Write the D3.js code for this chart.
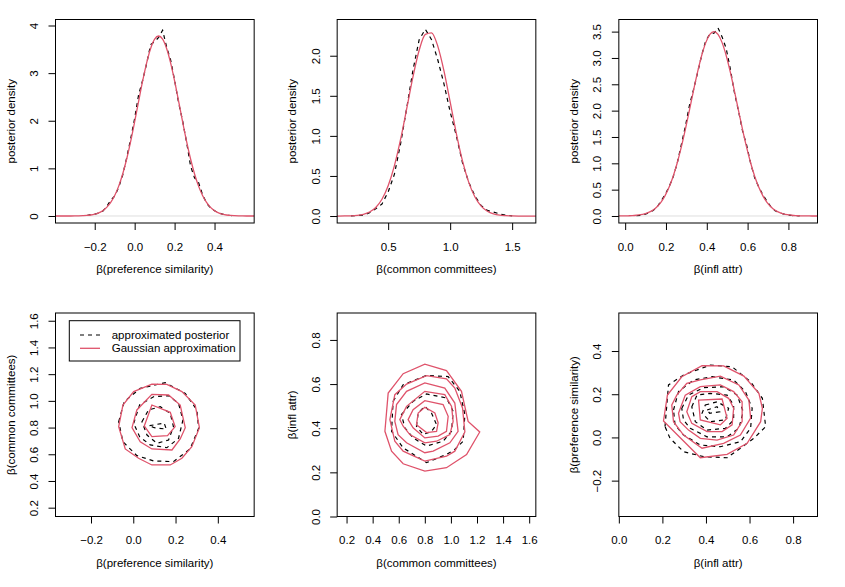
<!DOCTYPE html>
<html>
<head>
<meta charset="utf-8">
<script src="https://cdn.jsdelivr.net/npm/d3@7"></script>
<style>
  body { margin: 0; background: #fff; }
  text { font-family: "Liberation Sans", Arial, Helvetica, sans-serif; font-size: 11.5px; fill: #000; }
</style>
</head>
<body>
<svg id="chart" width="845" height="587"></svg>
<script>
//////////////////////// data ////////////////////////

// tick labels
const prefTicks = [-0.2, 0, 0.2, 0.4];
const commTicks = [0.5, 1.0, 1.5];
const inflTicks = [0, 0.2, 0.4, 0.6, 0.8];
const dens1Ticks = [0, 1, 2, 3, 4];
const dens2Ticks = [0, 0.5, 1.0, 1.5, 2.0];
const dens3Ticks = [0, 0.5, 1.0, 1.5, 2.0, 2.5, 3.0, 3.5];
const commTicks2 = [0.2, 0.4, 0.6, 0.8, 1.0, 1.2, 1.4, 1.6];
const inflTicks2 = [0, 0.2, 0.4, 0.6, 0.8];
const prefTicks2 = [-0.2, 0, 0.2, 0.4];

// beta(preference similarity): grid, Gaussian approximation, approximated posterior
const prefX = [-0.40,-0.38,-0.36,-0.34,-0.32,-0.30,-0.28,-0.26,-0.24,-0.22,-0.20,-0.18,-0.16,-0.14,-0.12,-0.10,-0.08,-0.06,-0.04,-0.02,
  0.00,0.02,0.04,0.06,0.08,0.10,0.12,0.14,0.16,0.18,0.20,0.22,0.24,0.26,0.28,0.30,0.32,0.34,0.36,0.38,0.40,0.42,0.44,0.46,0.48,0.50,
  0.52,0.54,0.56,0.58,0.60];
const prefGauss = [0,0,0,0,0,0.001,0.003,0.006,0.011,0.021,0.038,0.066,0.112,0.181,0.284,0.430,0.627,0.882,1.197,1.567,
  1.980,2.412,2.835,3.216,3.518,3.713,3.780,3.713,3.518,3.216,2.835,2.412,1.980,1.567,1.197,0.882,0.627,0.430,0.284,0.181,
  0.112,0.066,0.038,0.021,0.011,0.006,0.003,0.001,0,0,0];
const prefPost = [null,null,null,null,null,null,null,null,0.01,0.03,0.04,0.06,0.10,0.20,0.33,0.42,0.60,0.86,1.22,1.62,
  2.05,2.55,2.85,3.20,3.60,3.66,3.75,3.90,3.55,3.28,2.85,2.38,2.00,1.55,1.05,0.80,0.70,0.45,0.27,0.17,
  0.11,0.07,0.04,0.02,0.01,0.005,null,null,null,null,null];

// beta(common committees)
const commX = [0.05,0.10,0.15,0.20,0.25,0.30,0.35,0.40,0.45,0.50,0.55,0.60,0.65,0.70,0.75,0.80,0.85,0.90,0.95,1.00,
  1.05,1.10,1.15,1.20,1.25,1.30,1.35,1.40,1.45,1.50,1.55,1.60,1.65,1.70,1.75];
const commGauss = [0,0,0.001,0.003,0.009,0.022,0.050,0.107,0.209,0.377,0.625,0.955,1.343,1.737,2.068,2.266,2.285,2.120,1.811,1.423,
  1.029,0.685,0.420,0.237,0.123,0.059,0.026,0.010,0.004,0.001,0,0,0,0,0];
const commPost = [null,null,null,0.002,0.005,0.012,0.04,0.09,0.15,0.30,0.52,0.90,1.35,1.82,2.20,2.33,2.20,1.95,1.65,1.30,
  1.00,0.66,0.42,0.25,0.13,0.07,0.05,0.025,0.01,0.003,null,null,null,null,null];

// beta(infl attr)
const inflX = [-0.045,-0.025,-0.005,0.015,0.035,0.055,0.075,0.095,0.115,0.135,0.155,0.175,0.195,0.215,0.235,0.255,0.275,0.295,0.315,0.335,
  0.355,0.375,0.395,0.415,0.435,0.455,0.475,0.495,0.515,0.535,0.555,0.575,0.595,0.615,0.635,0.655,0.675,0.695,0.715,0.735,
  0.755,0.775,0.795,0.815,0.835,0.855,0.875,0.895,0.915,0.935,0.955];
const inflGauss = [0,0.001,0.002,0.004,0.007,0.014,0.024,0.041,0.068,0.110,0.172,0.260,0.382,0.544,0.751,1.006,1.307,1.646,2.011,2.382,
  2.736,3.047,3.291,3.447,3.500,3.447,3.291,3.047,2.736,2.382,2.011,1.646,1.307,1.006,0.751,0.544,0.382,0.260,0.172,0.110,
  0.068,0.041,0.024,0.014,0.007,0.004,0.002,0.001,0,0,0];
const inflPost = [null,null,null,null,null,0.005,0.01,0.03,0.06,0.10,0.16,0.28,0.40,0.55,0.74,1.00,1.35,1.70,2.10,2.40,
  2.72,3.05,3.33,3.45,3.47,3.57,3.40,3.18,2.80,2.35,2.00,1.62,1.35,1.00,0.72,0.55,0.40,0.28,0.17,0.10,
  0.06,0.04,0.02,0.01,0.005,0.002,null,null,null,null,null];

// contour rings [x, y]: preference similarity vs common committees
const prefCommPost = [
  [[-0.069,0.844],[-0.043,0.994],[0.033,1.094],[0.151,1.136],[0.246,1.056],[0.301,0.932],[0.309,0.794],[0.269,0.640],[0.190,0.545],[0.096,0.550],[0.017,0.590],[-0.049,0.694]],
  [[0.002,0.832],[0.030,0.969],[0.096,1.031],[0.167,1.039],[0.214,0.982],[0.235,0.857],[0.214,0.719],[0.159,0.649],[0.080,0.670],[0.030,0.732]],
  [[0.041,0.844],[0.072,0.932],[0.128,0.956],[0.175,0.907],[0.190,0.807],[0.167,0.707],[0.112,0.682],[0.065,0.744]],
  [[0.077,0.814],[0.146,0.834],[0.156,0.789],[0.099,0.799]]
];
const prefCommGauss = [
  [[-0.069,0.807],[-0.049,0.969],[0.002,1.069],[0.088,1.126],[0.159,1.124],[0.230,1.069],[0.293,0.969],[0.313,0.799],[0.277,0.657],[0.230,0.570],[0.175,0.520],[0.088,0.520],[0.025,0.570],[-0.038,0.640]],
  [[-0.006,0.799],[0.017,0.932],[0.088,1.049],[0.167,1.044],[0.222,0.969],[0.246,0.799],[0.222,0.715],[0.183,0.632],[0.088,0.640],[0.033,0.694]],
  [[0.052,0.812],[0.088,0.969],[0.175,0.914],[0.198,0.807],[0.162,0.739],[0.088,0.732]]
];

// common committees vs infl attr
const commInflPost = [
  [[0.557,0.522],[0.634,0.597],[0.813,0.639],[0.979,0.634],[1.068,0.567],[1.107,0.462],[1.094,0.341],[1.030,0.304],[0.966,0.281],[0.813,0.244],[0.634,0.311],[0.545,0.386]],
  [[0.621,0.462],[0.710,0.522],[0.813,0.555],[0.966,0.537],[1.017,0.477],[1.005,0.386],[0.940,0.341],[0.813,0.319],[0.710,0.356],[0.647,0.402]],
  [[0.736,0.409],[0.749,0.469],[0.800,0.499],[0.851,0.469],[0.890,0.416],[0.851,0.386],[0.787,0.371]]
];
const commInflGauss = [
  [[0.494,0.386],[0.519,0.559],[0.634,0.647],[0.800,0.690],[0.966,0.661],[1.081,0.567],[1.132,0.431],[1.221,0.383],[1.120,0.281],[0.966,0.221],[0.800,0.206],[0.634,0.239],[0.545,0.296]],
  [[0.532,0.439],[0.570,0.552],[0.660,0.600],[0.813,0.638],[0.966,0.624],[1.030,0.582],[1.089,0.492],[1.107,0.383],[1.030,0.296],[0.966,0.273],[0.800,0.251],[0.634,0.296],[0.570,0.341]],
  [[0.570,0.431],[0.583,0.507],[0.660,0.567],[0.800,0.605],[0.953,0.582],[1.030,0.514],[1.055,0.386],[0.992,0.334],[0.864,0.296],[0.800,0.289],[0.660,0.334],[0.595,0.371]],
  [[0.608,0.439],[0.660,0.499],[0.800,0.567],[0.953,0.552],[1.005,0.499],[1.017,0.431],[0.992,0.371],[0.890,0.341],[0.800,0.334],[0.685,0.371],[0.634,0.409]],
  [[0.672,0.439],[0.710,0.484],[0.800,0.525],[0.940,0.507],[0.979,0.454],[0.966,0.386],[0.902,0.364],[0.800,0.356],[0.710,0.402]],
  [[0.736,0.416],[0.749,0.469],[0.800,0.495],[0.877,0.469],[0.902,0.424],[0.890,0.386],[0.813,0.380]]
];

// infl attr vs preference similarity
const inflPrefPost = [
  [[0.212,0.050],[0.228,0.243],[0.297,0.289],[0.420,0.335],[0.520,0.327],[0.605,0.258],[0.659,0.181],[0.674,0.050],[0.620,-0.004],[0.558,-0.050],[0.497,-0.094],[0.389,-0.089],[0.297,-0.066],[0.235,-0.004]],
  [[0.251,0.127],[0.274,0.212],[0.343,0.266],[0.428,0.281],[0.527,0.266],[0.581,0.212],[0.612,0.135],[0.605,0.042],[0.558,-0.020],[0.466,-0.043],[0.374,-0.035],[0.297,0.011],[0.258,0.058]],
  [[0.289,0.135],[0.320,0.196],[0.389,0.230],[0.481,0.235],[0.543,0.196],[0.571,0.119],[0.551,0.042],[0.497,0.003],[0.405,0.003],[0.328,0.042],[0.297,0.081]],
  [[0.335,0.142],[0.359,0.196],[0.420,0.204],[0.497,0.196],[0.527,0.150],[0.527,0.081],[0.489,0.042],[0.405,0.034],[0.351,0.073]],
  [[0.397,0.150],[0.451,0.165],[0.504,0.135],[0.489,0.081],[0.420,0.073],[0.382,0.112]],
  [[0.405,0.127],[0.451,0.142],[0.463,0.119],[0.417,0.112]]
];
const inflPrefGauss = [
  [[0.205,0.076],[0.223,0.196],[0.289,0.281],[0.382,0.332],[0.481,0.331],[0.574,0.284],[0.643,0.204],[0.659,0.135],[0.651,0.073],[0.589,-0.027],[0.497,-0.078],[0.374,-0.094]],
  [[0.243,0.150],[0.266,0.196],[0.312,0.250],[0.374,0.266],[0.466,0.284],[0.551,0.243],[0.597,0.173],[0.605,0.089],[0.558,0.011],[0.481,-0.027],[0.382,-0.050],[0.297,0.011],[0.251,0.073]],
  [[0.274,0.112],[0.305,0.196],[0.374,0.235],[0.466,0.243],[0.527,0.212],[0.566,0.165],[0.566,0.073],[0.527,0.011],[0.451,-0.012],[0.374,-0.004],[0.320,0.034],[0.281,0.073]],
  [[0.312,0.119],[0.335,0.189],[0.374,0.212],[0.451,0.212],[0.504,0.181],[0.527,0.135],[0.520,0.058],[0.474,0.027],[0.405,0.027],[0.335,0.065]],
  [[0.366,0.173],[0.474,0.178],[0.497,0.089],[0.466,0.058],[0.374,0.081]]
];

const legendLabels = ["approximated posterior", "Gaussian approximation"];

//////////////////////// layout ////////////////////////

const W = 845, H = 587;
const cellW = W / 3, cellH = H / 2;
const margin = {left: 55.5, right: 27.5, top: 19.5, bottom: 70.5};
const boxW = cellW - margin.left - margin.right,
      boxH = cellH - margin.top - margin.bottom;
const RED = "#DF536B";

const panels = [
  {usrX: [-0.3965, 0.5985], usrY: [-0.147, 4.126], xTicks: prefTicks, yTicks: dens1Ticks, yFmt: "d",
   xLab: "β(preference similarity)", yLab: "posterior density", grid: prefX, gauss: prefGauss, post: prefPost},
  {usrX: [0.0887, 1.691], usrY: [-0.087, 2.452], xTicks: commTicks, yTicks: dens2Ticks, yFmt: ".1f",
   xLab: "β(common committees)", yLab: "posterior density", grid: commX, gauss: commGauss, post: commPost},
  {usrX: [-0.031, 0.9425], usrY: [-0.133, 3.73], xTicks: inflTicks, yTicks: dens3Ticks, yFmt: ".1f",
   xLab: "β(infl attr)", yLab: "posterior density", grid: inflX, gauss: inflGauss, post: inflPost},
  {usrX: [-0.368, 0.572], usrY: [0.134, 1.658], xTicks: prefTicks, yTicks: [0.2,0.4,0.6,0.8,1.0,1.2,1.4,1.6], yFmt: ".1f",
   xLab: "β(preference similarity)", yLab: "β(common committees)", rings: prefCommPost, gaussRings: prefCommGauss, legend: true},
  {usrX: [0.128, 1.651], usrY: [0, 0.922], xTicks: commTicks2, yTicks: [0,0.2,0.4,0.6,0.8], yFmt: ".1f",
   xLab: "β(common committees)", yLab: "β(infl attr)", rings: commInflPost, gaussRings: commInflGauss},
  {usrX: [0, 0.912], usrY: [-0.366, 0.576], xTicks: inflTicks2, yTicks: prefTicks2, yFmt: ".1f",
   xLab: "β(infl attr)", yLab: "β(preference similarity)", rings: inflPrefPost, gaussRings: inflPrefGauss}
];

const svg = d3.select("#chart");

panels.forEach((p, i) => {
  const col = i % 3, row = Math.floor(i / 3);
  const g = svg.append("g")
    .attr("transform", `translate(${col * cellW + margin.left},${row * cellH + margin.top})`);

  const x = d3.scaleLinear().domain(p.usrX).range([0, boxW]);
  const y = d3.scaleLinear().domain(p.usrY).range([boxH, 0]);

  g.append("clipPath").attr("id", "clip" + i)
    .append("rect").attr("width", boxW).attr("height", boxH);
  const plot = g.append("g").attr("clip-path", `url(#clip${i})`);

  if (p.grid) {
    // thin zero line, as plot.density draws it
    plot.append("line")
      .attr("x1", 0).attr("x2", boxW)
      .attr("y1", y(0)).attr("y2", y(0))
      .attr("stroke", "#bebebe").attr("stroke-width", 0.5);

    const postLine = d3.line()
      .defined(d => d[1] != null)
      .x(d => x(d[0])).y(d => y(d[1]));
    const gaussLine = d3.line()
      .x(d => x(d[0])).y(d => y(d[1]))
      .curve(d3.curveMonotoneX);

    plot.append("path")
      .datum(d3.zip(p.grid, p.post))
      .attr("d", postLine)
      .attr("fill", "none").attr("stroke", "#000")
      .attr("stroke-width", 1.2).attr("stroke-dasharray", "4,4");
    plot.append("path")
      .datum(d3.zip(p.grid, p.gauss))
      .attr("d", gaussLine)
      .attr("fill", "none").attr("stroke", RED)
      .attr("stroke-width", 1.3);
  } else {
    const ring = d3.line()
      .x(d => x(d[0])).y(d => y(d[1]))
      .curve(d3.curveLinearClosed);

    plot.selectAll("path.post")
      .data(p.rings)
      .join("path")
      .attr("class", "post")
      .attr("d", ring)
      .attr("fill", "none").attr("stroke", "#000")
      .attr("stroke-width", 1.2).attr("stroke-dasharray", "4,4");
    plot.selectAll("path.gauss")
      .data(p.gaussRings)
      .join("path")
      .attr("class", "gauss")
      .attr("d", ring)
      .attr("fill", "none").attr("stroke", RED)
      .attr("stroke-width", 1.3);
  }

  // x axis
  const xAxis = g.append("g")
    .attr("transform", `translate(0,${boxH})`)
    .call(d3.axisBottom(x).tickValues(p.xTicks).tickFormat(d3.format(".1f")).tickSize(7).tickPadding(12.5));
  xAxis.select(".domain").remove();
  xAxis.attr("font-size", null).attr("font-family", null);

  // y axis, labels parallel to the axis
  const yAxis = g.append("g")
    .call(d3.axisLeft(y).tickValues(p.yTicks).tickFormat("").tickSize(7));
  yAxis.select(".domain").remove();
  yAxis.selectAll(".tick").append("text")
    .attr("transform", "translate(-17.6,0) rotate(-90)")
    .attr("text-anchor", "middle")
    .text(d3.format(p.yFmt));

  // box
  g.append("rect")
    .attr("width", boxW).attr("height", boxH)
    .attr("fill", "none").attr("stroke", "#000").attr("stroke-width", 1);

  // titles
  g.append("text")
    .attr("x", boxW / 2).attr("y", boxH + 50)
    .attr("text-anchor", "middle")
    .text(p.xLab);
  g.append("text")
    .attr("transform", `translate(-41,${boxH / 2}) rotate(-90)`)
    .attr("text-anchor", "middle")
    .text(p.yLab);

  if (p.legend) {
    const lg = g.append("g").attr("transform", "translate(13.8,7.7)");
    lg.append("rect")
      .attr("width", 170.7).attr("height", 40.3)
      .attr("fill", "#fff").attr("stroke", "#000").attr("stroke-width", 1);
    legendLabels.forEach((lab, k) => {
      const ly = 14.3 + k * 13.3;
      lg.append("line")
        .attr("x1", 10.7).attr("x2", 30.7).attr("y1", ly).attr("y2", ly)
        .attr("stroke", k === 0 ? "#000" : RED)
        .attr("stroke-width", k === 0 ? 1.2 : 1.3)
        .attr("stroke-dasharray", k === 0 ? "4,4" : null);
      lg.append("text")
        .attr("x", 42.4).attr("y", ly).attr("dy", "0.35em")
        .text(lab);
    });
  }
});
</script>
</body>
</html>
